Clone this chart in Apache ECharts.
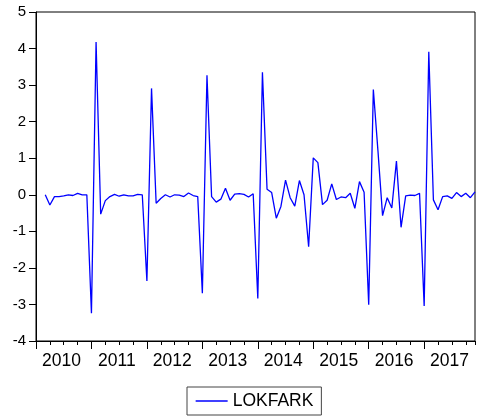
<!DOCTYPE html>
<html>
<head>
<meta charset="utf-8">
<script src="https://cdn.jsdelivr.net/npm/echarts@6/dist/echarts.min.js"></script>
<style>
html,body{margin:0;padding:0;background:#fff;}
#chart{width:479px;height:418px;}
</style>
</head>
<body>
<div id="chart"></div>
<script>
// Monthly observations 2010M01 .. 2017M12
var years = ['2010','2011','2012','2013','2014','2015','2016','2017'];
var seriesName = 'LOKFARK';
var lokfark = [
  null, null, 0.00, -0.28, -0.05, -0.05, -0.03, 0.00, -0.02, 0.04, 0.00, 0.00,
  -3.24, 4.18, -0.53, -0.16, -0.05, 0.01, -0.04, 0.00, -0.03, -0.03, 0.01, 0.00,
  -2.36, 2.91, -0.23, -0.10, 0.00, -0.06, 0.00, -0.01, -0.05, 0.05, -0.02, -0.05,
  -2.69, 3.27, -0.05, -0.20, -0.12, 0.18, -0.15, 0.02, 0.03, 0.01, -0.06, 0.03,
  -2.84, 3.35, 0.15, 0.06, -0.64, -0.32, 0.40, -0.08, -0.31, 0.39, 0.00, -1.42,
  1.01, 0.88, -0.27, -0.15, 0.30, -0.13, -0.06, -0.08, 0.04, -0.37, 0.36, 0.07,
  -3.01, 2.88, 1.20, -0.57, -0.08, -0.36, 0.92, -0.89, -0.03, -0.01, -0.02, 0.04,
  -3.04, 3.91, -0.14, -0.41, -0.05, -0.03, -0.10, 0.06, -0.05, 0.04, -0.08, 0.08
];
var yTicks = [-4, -3, -2, -1, 0, 1, 2, 3, 4, 5];

var nObs = years.length * 12;
var data = lokfark.map(function (v, i) { return [i, v]; });
var yearStarts = years.map(function (y, k) { return k * 12; });
var yearMids = years.map(function (y, k) { return k * 12 + 5.5; });

var chart = echarts.init(document.getElementById('chart'), null, {renderer: 'canvas'});
var font = '"Liberation Sans", Arial, sans-serif';
chart.setOption({
  animation: false,
  backgroundColor: '#ffffff',
  grid: {
    left: 36, right: 4, top: 12, bottom: 77,
    show: true, borderColor: '#000', borderWidth: 1, backgroundColor: 'transparent'
  },
  legend: {
    data: [seriesName],
    left: 187, top: 387,
    padding: [5, 8, 5, 8],
    itemWidth: 32, itemHeight: 14, itemGap: 0,
    borderColor: '#444', borderWidth: 1,
    itemStyle: {opacity: 0},
    lineStyle: {color: '#0000ff', width: 1.3},
    textStyle: {fontFamily: font, fontSize: 17.5, color: '#000', lineHeight: 18}
  },
  xAxis: [
    {
      type: 'value', min: 0, max: nObs - 1,
      splitLine: {show: false},
      axisLine: {show: true, onZero: false, lineStyle: {color: '#000', width: 1}},
      axisTick: {show: true, inside: false, length: 8, customValues: yearStarts,
                 lineStyle: {color: '#000', width: 1}},
      axisLabel: {show: true, customValues: yearMids, margin: 11,
                  fontFamily: font, fontSize: 17.5, color: '#000',
                  formatter: function (v) { return years[Math.floor(v / 12)]; }}
    },
    {
      type: 'value', min: 0, max: nObs - 1, interval: 3, position: 'bottom',
      splitLine: {show: false},
      axisLine: {show: false, onZero: false},
      axisTick: {show: true, inside: false, length: 4, lineStyle: {color: '#000', width: 1}},
      axisLabel: {show: false}
    }
  ],
  yAxis: {
    type: 'value', min: yTicks[0], max: yTicks[yTicks.length - 1], interval: 1,
    splitLine: {show: false},
    axisLine: {show: true, lineStyle: {color: '#000', width: 1}},
    axisTick: {show: true, inside: false, length: 7, lineStyle: {color: '#000', width: 1}},
    axisLabel: {margin: 10, fontFamily: font, fontSize: 15, color: '#000'}
  },
  series: [{
    name: seriesName,
    type: 'line',
    xAxisIndex: 0,
    data: data,
    symbol: 'none',
    connectNulls: false,
    lineStyle: {color: '#0000ff', width: 1.3},
    itemStyle: {color: '#0000ff'}
  }]
});
</script>
</body>
</html>
